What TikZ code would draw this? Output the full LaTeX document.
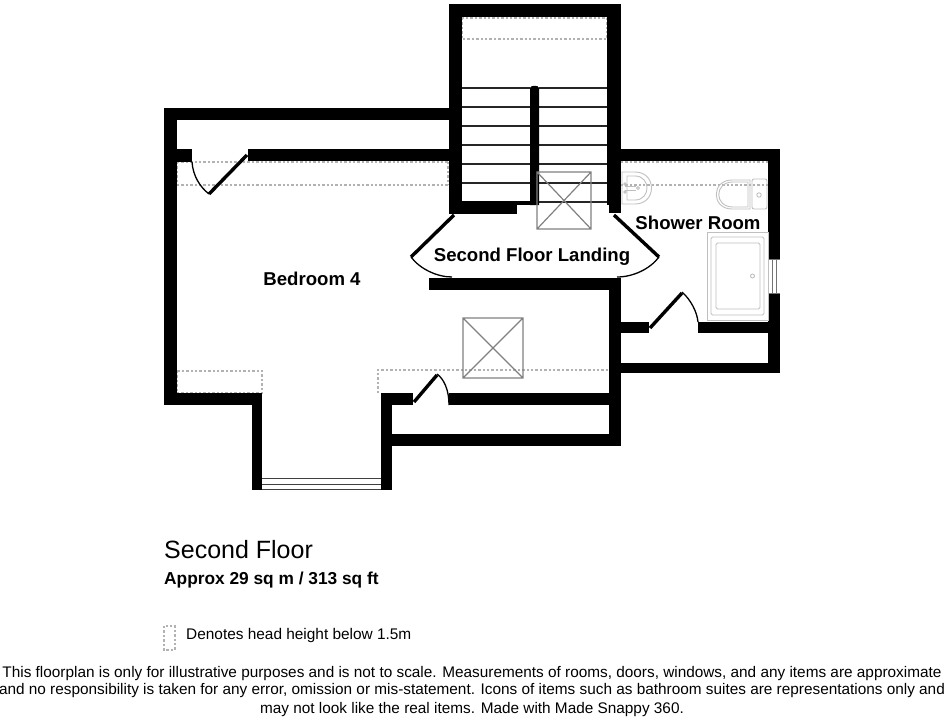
\documentclass[tikz,border=0pt]{standalone}
\usepackage{fontspec}
\setmainfont{Liberation Sans}
\tikzset{
 wall/.style={fill=black,draw=none},
 lead/.style={line width=3.4pt,black},
 swing/.style={line width=1.3pt,black},
 tread/.style={line width=1.3pt,black!85},
 headzone/.style={draw=black!30,line width=1.2pt,dash pattern=on 2.4pt off 2pt},
 skylight/.style={draw=black!50,line width=1.2pt},
 fitting/.style={draw=black!25,line width=0.9pt},
 roomlabel/.style={font=\bfseries\fontsize{18.6}{20}\selectfont,inner sep=0pt},
 foot/.style={font=\fontsize{15.35}{18}\selectfont,inner sep=0pt,align=center}
}
\begin{document}
\begin{tikzpicture}[x=1pt,y=-1pt]
\useasboundingbox (0,0) rectangle (944,720);
% head height zones
\draw[headzone] (462,18) rectangle (607,39);
\draw[headzone] (177,162) -- (449,162);
\draw[headzone] (177,185) -- (449,185);
\draw[headzone] (448,162) -- (448,185);
\draw[headzone] (177,162) -- (177,185);
\draw[headzone] (177,371) rectangle (262,393);
\draw[headzone] (378,393) -- (378,370) -- (609,370);
\draw[headzone] (621,162) -- (768,162);
\draw[headzone] (621,185) -- (768,185);
% treads
\foreach \y in {88,107,126,145,164,183,202} {
 \draw[tread] (462,\y) -- (530,\y);
 \draw[tread] (539,\y) -- (607,\y);
}
% walls
\fill[wall] (449,4) rectangle (621,17);
\fill[wall] (449,4) rectangle (462,214);
\fill[wall] (607,4) rectangle (621,205);
\fill[wall] (609,205) rectangle (621,213);
\fill[wall] (449,201) rectangle (517,214);
\fill[wall] (517,201) rectangle (532,205);
\fill[wall] (530,88) .. controls (530,85) and (539,85) .. (539,88) -- (539,205) -- (530,205) -- cycle;
\fill[wall] (164,108) rectangle (449,120);
\fill[wall] (164,108) rectangle (177,405);
\fill[wall] (177,149) rectangle (192,162);
\fill[wall] (248,149) rectangle (449,161);
\fill[wall] (164,393) rectangle (262,405);
\fill[wall] (252,393) rectangle (262,490);
\fill[wall] (381,393) rectangle (392,490);
\fill[wall] (381,393) rectangle (413,405);
\fill[wall] (449,393) rectangle (621,405);
\fill[wall] (392,434) rectangle (621,446);
\fill[wall] (609,278) rectangle (621,446);
\fill[wall] (429,278) rectangle (621,290);
\fill[wall] (621,149) rectangle (780,161);
\fill[wall] (768,149) rectangle (780,259);
\fill[wall] (768,293) rectangle (780,373);
\fill[wall] (621,363) rectangle (780,373);
\fill[wall] (621,322) rectangle (649,333);
\fill[wall] (698,322) rectangle (768,333);
% windows
\draw[line width=1pt,black!75] (262,478) -- (381,478) (262,484.5) -- (381,484.5) (262,489.5) -- (381,489.5);
\draw[line width=0.8pt,black!55] (768,259) -- (780,259) (768,293) -- (780,293) (772,259) -- (772,293) (776,259) -- (776,293);
% doors
\draw[lead] (209,194) -- (247,155);
\draw[swing] (192,162) .. controls (193,176) and (200,187) .. (209,194);
\draw[lead] (414,402) -- (437,375);
\draw[swing] (437,374) .. controls (444,379) and (449,390) .. (449,405);
\draw[lead] (650,328) -- (682,293);
\draw[swing] (682,292) .. controls (691,300) and (697,312) .. (698,322);
% landing
\draw[lead] (454,215) -- (411,257);
\draw[swing] (411,257) .. controls (420,269) and (437,277) .. (452,277);
\draw[lead] (614,215) -- (659,257);
\draw[swing] (659,257) .. controls (650,269) and (633,277) .. (617,277);
% skylights
\draw[skylight] (537,172) rectangle (591,229) (537,172) -- (591,229) (537,229) -- (591,172);
\draw[skylight] (463,318) rectangle (523,378) (463,318) -- (523,378) (463,378) -- (523,318);
% basin
\draw[fitting] (622,172) -- (635,172) .. controls (657,172) and (657,204) .. (635,204) -- (622,204) -- cycle;
\draw[fitting] (627,176) -- (635,176) .. controls (651,176) and (651,200) .. (635,200) -- (627,200) -- cycle;
\draw[fitting] (638,188) circle (1.4);
\draw[fitting] (625,186) -- (636,186) (625,190) -- (636,190);
\draw[fitting] (625,184) circle (1.2) (625,192) circle (1.2);
% wc
\draw[fitting] (750,180) -- (732,180) .. controls (711,180) and (711,209) .. (732,209) -- (750,209) -- cycle;
\draw[fitting] (748,182) -- (733,182) .. controls (714,182) and (714,207) .. (733,207) -- (748,207) -- cycle;
\draw[fitting,rounded corners=2pt] (752,179) rectangle (767,209);
\draw[fitting] (759,195) circle (2.2);
% bath
\draw[fitting] (707,232) rectangle (768,320);
\draw[fitting,rounded corners=1.5pt] (711,237) rectangle (764,315);
\draw[fitting,rounded corners=1.5pt] (716,243) rectangle (760,309);
\draw[fitting] (752.5,276) circle (2);
% labels
\node[roomlabel] (bed) at (312,279) {Bedroom 4};
\node[roomlabel] (land) at (532,256.5) {Second Floor Landing};
\node[roomlabel] (show) at (698,223) {Shower Room};
\node[anchor=west,inner sep=0pt,font=\fontsize{25}{28}\selectfont] (sf) at (164,550) {Second Floor};
\node[anchor=west,inner sep=0pt,font=\bfseries\fontsize{17.3}{19}\selectfont] (ap) at (164,580.5) {Approx 29 sq m / 313 sq ft};
\draw[headzone] (164,626) rectangle (175,650);
\node[anchor=west,inner sep=0pt,font=\fontsize{15.4}{18}\selectfont] (den) at (186,636) {Denotes head height below 1.5m};
\node[foot] (f1) at (472,673.5) {This floorplan is only for illustrative purposes and is not to scale. Measurements of rooms, doors, windows, and any items are approximate};
\node[foot] (f2) at (472,691) {and no responsibility is taken for any error, omission or mis-statement. Icons of items such as bathroom suites are representations only and};
\node[foot] (f3) at (472,709.5) {may not look like the real items. Made with Made Snappy 360.};
\end{tikzpicture}
\end{document}
